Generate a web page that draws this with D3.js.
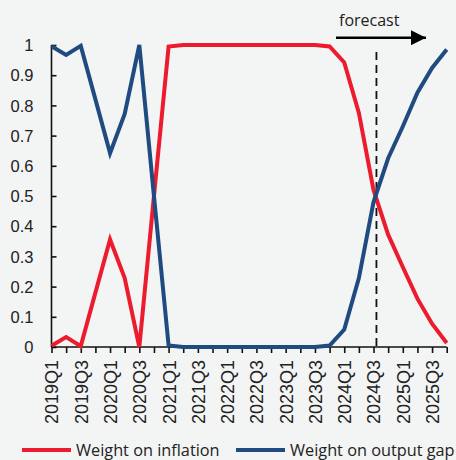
<!DOCTYPE html>
<html lang="en">
<head>
<meta charset="UTF-8">
<title>Weights</title>
<script src="https://d3js.org/d3.v7.min.js"></script>
<style>
  body { margin: 0; background: #f3f4f4; }
  svg { display: block; background: #f3f4f4; font-family: "Open Sans", sans-serif; }
  .axis path, .axis line { stroke: #111; stroke-width: 1.6px; }
  .axis text { fill: #222; font-size: 16.5px; }
  .axis.x text { font-size: 18px; }
</style>
</head>
<body>
<svg width="456" height="460"></svg>
<script>
// quarters 2019Q1 .. 2025Q4
const quarters = [];
for (let y = 2019; y <= 2025; y++) for (let q = 1; q <= 4; q++) quarters.push(y + "Q" + q);

const inflation = [0.004, 0.033, 0.003, 0.18, 0.356, 0.228, 0.0, 0.5, 0.995, 1, 1, 1, 1, 1, 1, 1, 1, 1, 1, 0.995, 0.942, 0.775, 0.52, 0.372, 0.265, 0.16, 0.077, 0.013];
const outputGap = [0.996, 0.967, 0.997, 0.82, 0.642, 0.772, 1.0, 0.5, 0.005, 0, 0, 0, 0, 0, 0, 0, 0, 0, 0, 0.005, 0.058, 0.228, 0.48, 0.625, 0.73, 0.842, 0.924, 0.985];
const yTicks = [0, 0.1, 0.2, 0.3, 0.4, 0.5, 0.6, 0.7, 0.8, 0.9, 1];
const forecastAt = 22.2;   // just after 2024Q3

const red = "#ec1b2e", blue = "#1f4b80";
const svg = d3.select("svg");

const x = d3.scaleLinear().domain([0, quarters.length - 1]).range([51.5, 446.7]);
const y = d3.scaleLinear().domain([0, 1]).range([347, 45]);

// y axis, ticks pointing inward
const yAxis = svg.append("g").attr("class", "axis")
  .attr("transform", `translate(${x(0)},0)`)
  .call(d3.axisRight(y).tickValues(yTicks).tickSize(5).tickFormat(d3.format("~g")));
yAxis.select(".domain").attr("d", `M0,${y(1)}V${y(0)}`);
yAxis.selectAll("text").attr("x", -18).attr("text-anchor", "end").attr("dy", "0.35em");

// x axis
const xAxis = svg.append("g").attr("class", "axis x")
  .attr("transform", `translate(0,${y(0)})`)
  .call(d3.axisBottom(x).tickValues(d3.range(quarters.length)).tickSize(6)
    .tickFormat(i => i % 2 === 0 ? quarters[i] : ""));
xAxis.select(".domain").attr("d", `M${x(0)},0H${x(quarters.length - 1)}`);
xAxis.selectAll("text")
  .attr("transform", "rotate(-90)")
  .attr("text-anchor", "end")
  .attr("x", -13).attr("y", 0).attr("dy", "0.36em");

// forecast marker
svg.append("line")
  .attr("x1", x(forecastAt)).attr("x2", x(forecastAt))
  .attr("y1", 52).attr("y2", y(0))
  .attr("stroke", "#111").attr("stroke-width", 1.8).attr("stroke-dasharray", "8,5");

svg.append("defs").append("marker")
  .attr("id", "arrow").attr("viewBox", "0 0 10 10")
  .attr("refX", 10).attr("refY", 5)
  .attr("markerWidth", 15).attr("markerHeight", 15)
  .attr("markerUnits", "userSpaceOnUse")
  .attr("orient", "auto")
  .append("path").attr("d", "M0,0L10,5L0,10Z").attr("fill", "#000");

svg.append("line")
  .attr("x1", 336).attr("x2", 426).attr("y1", 37.7).attr("y2", 37.7)
  .attr("stroke", "#000").attr("stroke-width", 2.5)
  .attr("marker-end", "url(#arrow)");

svg.append("text").attr("x", 339).attr("y", 26)
  .attr("font-size", 16).attr("fill", "#222").text("forecast");

// series
const line = d3.line().x((d, i) => x(i)).y(d => y(d));
svg.append("path").datum(inflation).attr("d", line)
  .attr("fill", "none").attr("stroke", red).attr("stroke-width", 4);
svg.append("path").datum(outputGap).attr("d", line)
  .attr("fill", "none").attr("stroke", blue).attr("stroke-width", 4);

// legend
const legend = [
  { name: "Weight on inflation", color: red, x: 22 },
  { name: "Weight on output gap", color: blue, x: 236 }
];
const lg = svg.append("g").selectAll("g").data(legend).join("g")
  .attr("transform", d => `translate(${d.x},450)`);
lg.append("line").attr("x1", 0).attr("x2", 49)
  .attr("stroke", d => d.color).attr("stroke-width", 4);
lg.append("text").attr("x", 54).attr("y", 5.5)
  .attr("font-size", 16.3).attr("fill", "#222").text(d => d.name);
</script>
</body>
</html>
